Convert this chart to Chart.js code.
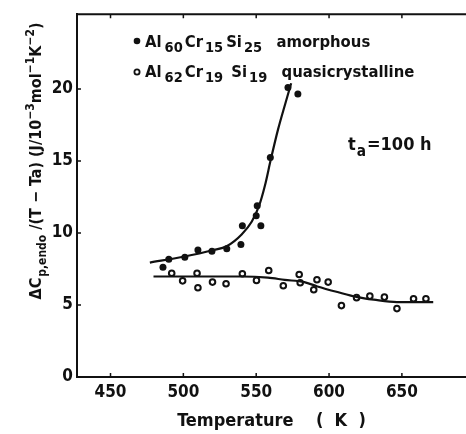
<!DOCTYPE html>
<html><head><meta charset="utf-8">
<script src="https://cdn.jsdelivr.net/npm/chart.js@4.4.1/dist/chart.umd.min.js"></script>
<style>html,body{margin:0;padding:0;background:#fff}canvas{display:block}</style>
</head><body><canvas id="c" width="466" height="434"></canvas>
<script>
const FONT = '"DejaVu Sans Condensed", "DejaVu Sans", sans-serif';
const INK = '#111';

// axis ticks
const xTicks = [450, 500, 550, 600, 650];
const yTicks = [0, 5, 10, 15, 20];

// Al60Cr15Si25 amorphous: measured points
const amorphousT = [486, 490, 501, 510, 519.6, 529.8, 539.5, 540.5, 550, 550.7, 553.2, 559.7, 571.8, 578.6];
const amorphousC = [7.63, 8.18, 8.32, 8.83, 8.74, 8.9, 9.2, 10.5, 11.2, 11.9, 10.5, 15.25, 20.1, 19.66];
// fitted curve through the amorphous data
const amorphousFitT = [477, 500, 520, 530, 540, 547, 552, 556, 560, 565, 570, 574];
const amorphousFitC = [7.95, 8.35, 8.8, 9.1, 9.9, 10.8, 11.9, 13.3, 15.1, 17.2, 19.0, 20.4];

// Al62Cr19Si19 quasicrystalline: measured points
const quasiT = [492, 499.5, 509.4, 510, 520, 529.3, 540.5, 550.2, 558.6, 568.6, 579.5, 580.2, 589.5, 591.7, 599.4, 608.5, 618.9, 628, 638, 646.6, 658, 666.5];
const quasiC = [7.21, 6.68, 7.21, 6.2, 6.59, 6.48, 7.17, 6.71, 7.4, 6.34, 7.12, 6.55, 6.06, 6.75, 6.59, 4.96, 5.51, 5.62, 5.55, 4.75, 5.44, 5.44];
// fitted curve through the quasicrystalline data
const quasiFitT = [479.5, 510, 540, 558, 569.5, 583, 592, 605.8, 619.4, 630.7, 646.6, 671.5];
const quasiFitC = [6.98, 6.98, 6.98, 6.9, 6.75, 6.59, 6.29, 5.9, 5.55, 5.37, 5.2, 5.2];

const pts = (xs, ys) => xs.map((x, i) => ({x, y: ys[i]}));

// text with sub/superscript runs; g = extra gap after a run
function segFont(s, size, scale) {
  const sz = (s.sub || s.sup) ? size * scale : size;
  return 'bold ' + sz + 'px ' + FONT;
}
function richWidth(ctx, segs, size, scale) {
  let w = 0;
  for (const s of segs) {
    ctx.font = segFont(s, size, scale);
    w += ctx.measureText(s.t).width + (s.g || 0);
  }
  return w;
}
function drawRich(ctx, segs, x, y, size, scale) {
  let cx = x;
  for (const s of segs) {
    const dy = s.sub ? size * 0.32 : s.sup ? -size * 0.42 : 0;
    ctx.font = segFont(s, size, scale);
    ctx.fillText(s.t, cx, y + dy);
    cx += ctx.measureText(s.t).width + (s.g || 0);
  }
}

const legendA = [{t:'Al',g:3},{t:'60',sub:1,g:2},{t:'Cr',g:2},{t:'15',sub:1,g:3},{t:'Si',g:2},{t:'25',sub:1,g:4},{t:'  amorphous'}];
const legendQ = [{t:'Al',g:3},{t:'62',sub:1,g:2},{t:'Cr',g:2},{t:'19',sub:1,g:3},{t:' Si',g:2},{t:'19',sub:1,g:4},{t:'  quasicrystalline'}];
const anneal = [{t:'t',g:1},{t:'a',sub:1,g:1},{t:'=100 h'}];
const yTitle = [{t:'\u0394C',g:1},{t:'p,endo',sub:1},{t:' /(T \u2212 Ta) (J/10'},{t:'\u22123',sup:1},{t:'mol'},{t:'\u22121',sup:1},{t:'K'},{t:'\u22122',sup:1},{t:')'}];

const decor = {
  id: 'decor',
  afterDraw(chart) {
    const {ctx, chartArea: a, scales: {x, y}} = chart;
    ctx.save();
    ctx.strokeStyle = INK;
    ctx.lineWidth = 2;
    // top frame line
    ctx.beginPath(); ctx.moveTo(a.left, a.top); ctx.lineTo(a.right, a.top); ctx.stroke();
    // inward tick marks
    ctx.lineWidth = 1.5;
    ctx.beginPath();
    for (const v of xTicks) {
      const px = x.getPixelForValue(v);
      ctx.moveTo(px, a.bottom); ctx.lineTo(px, a.bottom - 4);
      ctx.moveTo(px, a.top); ctx.lineTo(px, a.top + 4);
    }
    for (const v of yTicks) {
      const py = y.getPixelForValue(v);
      ctx.moveTo(a.left, py); ctx.lineTo(a.left + 4, py);
    }
    ctx.stroke();

    ctx.fillStyle = INK;
    ctx.textBaseline = 'alphabetic';
    ctx.textAlign = 'left';
    // legend
    ctx.beginPath(); ctx.arc(137, 41, 3.3, 0, Math.PI * 2); ctx.fill();
    ctx.beginPath(); ctx.arc(137, 72, 2.6, 0, Math.PI * 2);
    ctx.fillStyle = '#fff'; ctx.fill(); ctx.lineWidth = 1.8; ctx.stroke();
    ctx.fillStyle = INK;
    drawRich(ctx, legendA, 145, 47, 16.5, 0.88);
    drawRich(ctx, legendQ, 145, 77, 16.5, 0.88);
    // annealing time
    drawRich(ctx, anneal, 348, 150, 18, 0.85);
    // y axis title, rotated
    ctx.translate(41, 161);
    ctx.rotate(-Math.PI / 2);
    const w = richWidth(ctx, yTitle, 16, 0.75);
    drawRich(ctx, yTitle, -w / 2, 0, 16, 0.75);
    ctx.restore();
  }
};

new Chart(document.getElementById('c'), {
  type: 'scatter',
  data: {
    datasets: [
      {data: pts(amorphousFitT, amorphousFitC), showLine: true, pointRadius: 0, borderColor: INK, borderWidth: 2.2, cubicInterpolationMode: 'monotone'},
      {data: pts(quasiFitT, quasiFitC), showLine: true, pointRadius: 0, borderColor: INK, borderWidth: 2.2, cubicInterpolationMode: 'monotone'},
      {data: pts(amorphousT, amorphousC), showLine: false, pointRadius: 3.5, backgroundColor: INK, borderColor: INK, borderWidth: 0},
      {data: pts(quasiT, quasiC), showLine: false, pointRadius: 2.8, backgroundColor: '#fff', borderColor: INK, borderWidth: 2}
    ]
  },
  options: {
    responsive: false,
    animation: false,
    clip: false,
    layout: {autoPadding: false, padding: {top: 12, right: 0, left: 0, bottom: 0}},
    plugins: {legend: {display: false}, tooltip: {enabled: false}},
    scales: {
      x: {
        type: 'linear', min: 427, max: 694,
        afterBuildTicks: s => { s.ticks = xTicks.map(v => ({value: v})); },
        afterFit: s => { s.height = 57; },
        grid: {display: false, drawTicks: false},
        border: {display: true, color: INK, width: 2},
        ticks: {color: INK, font: {family: FONT, size: 17, weight: 'bold'}, padding: 5, maxRotation: 0},
        title: {display: true, text: 'Temperature    (  K  )', color: INK, font: {family: FONT, size: 18, weight: 'bold'}, padding: {top: 0, bottom: 2}}
      },
      y: {
        min: 0, max: 25.2,
        afterBuildTicks: s => { s.ticks = yTicks.map(v => ({value: v})); },
        afterFit: s => { s.width = 77; },
        grid: {display: false, drawTicks: false},
        border: {display: true, color: INK, width: 2},
        ticks: {color: INK, font: {family: FONT, size: 17, weight: 'bold'}, padding: 4}
      }
    }
  },
  plugins: [decor]
});
</script>
</body></html>
